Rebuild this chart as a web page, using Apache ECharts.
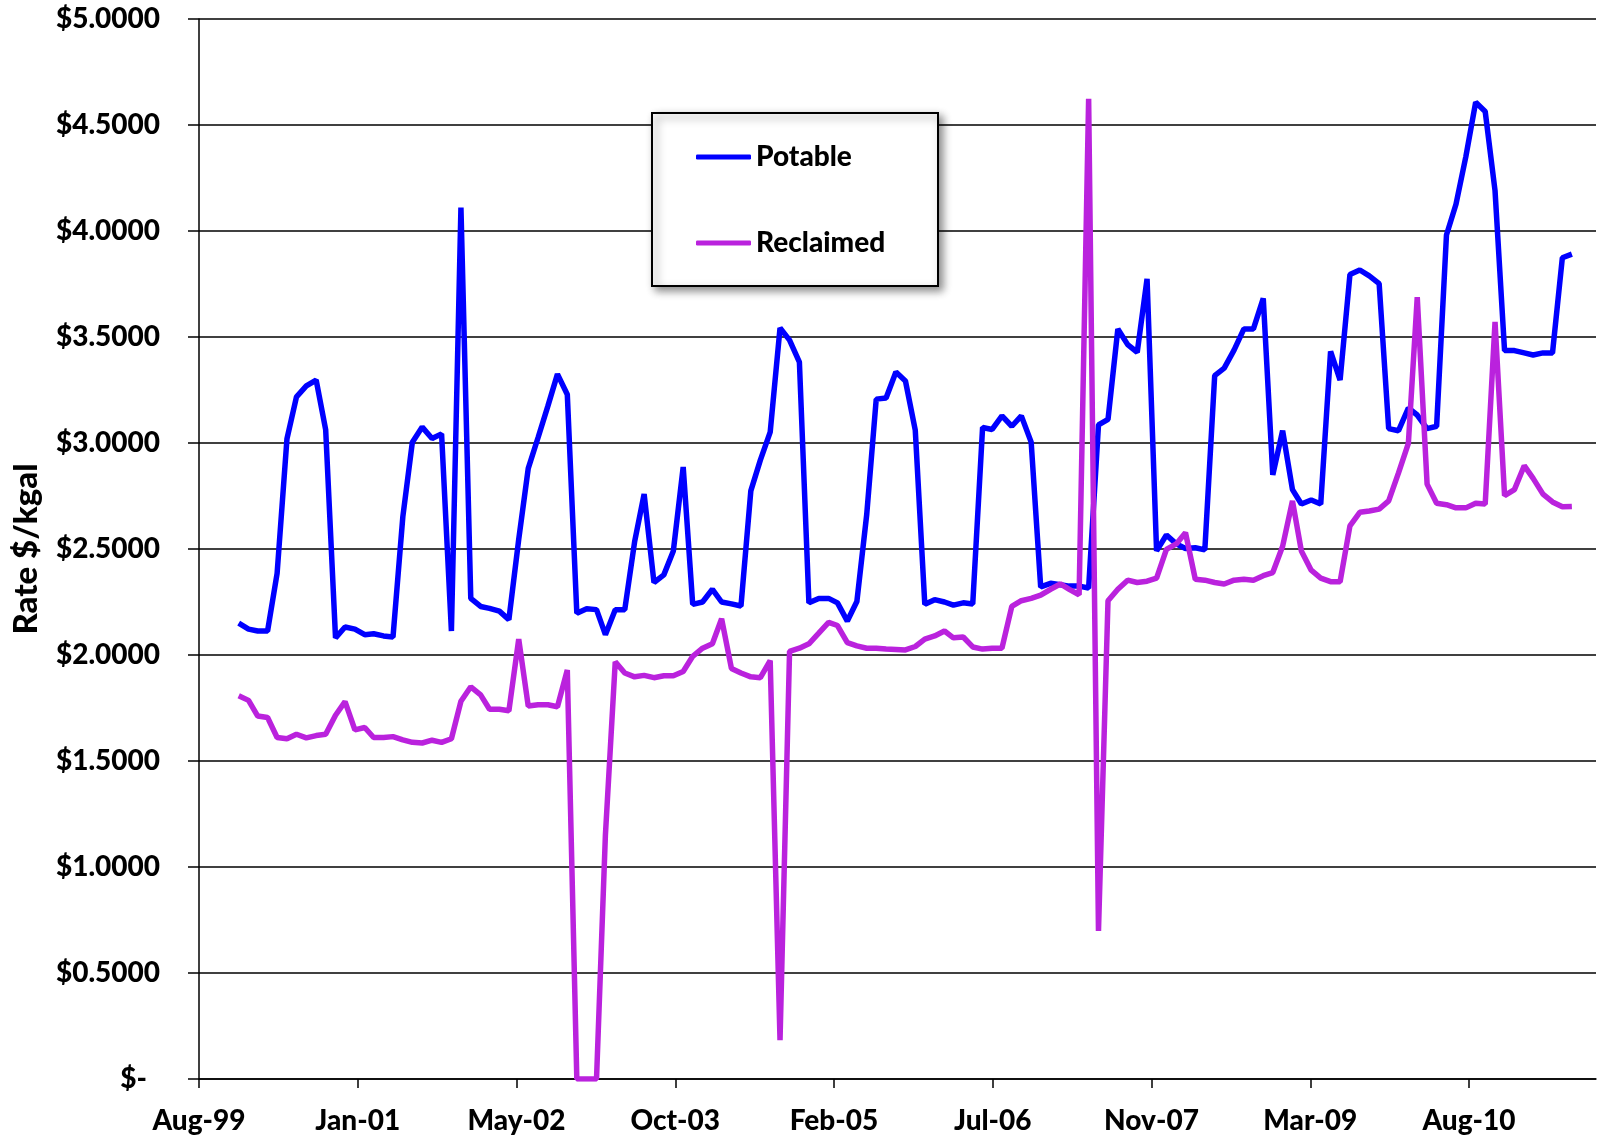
<!DOCTYPE html>
<html>
<head>
<meta charset="utf-8">
<script src="https://cdn.jsdelivr.net/npm/echarts@6/dist/echarts.min.js"></script>
<style>
html,body{margin:0;padding:0;background:#fff;}
#chart{width:1600px;height:1139px;}
</style>
</head>
<body>
<div id="chart"></div>
<script>
// Monthly observations, Jan 2000 .. Jul 2011
const startYear = 2000;
const monthCount = 139;
const months = [];
for (let i = 0; i < monthCount; i++) {
  const y = startYear + Math.floor(i / 12), m = i % 12;
  months.push(y + '-' + String(m + 1).padStart(2, '0'));
}

const potable = [
  2.150, 2.122, 2.113, 2.113, 2.385, 3.019, 3.218, 3.269, 3.297, 3.062,
  2.081, 2.132, 2.122, 2.096, 2.100, 2.090, 2.085, 2.652, 3.004, 3.075,
  3.021, 3.043, 2.113, 4.110, 2.267, 2.229, 2.220, 2.207, 2.167, 2.545,
  2.880, 3.026, 3.175, 3.325, 3.229, 2.197, 2.218, 2.214, 2.096, 2.214,
  2.214, 2.534, 2.759, 2.342, 2.378, 2.491, 2.887, 2.239, 2.250, 2.310,
  2.250, 2.241, 2.231, 2.774, 2.919, 3.051, 3.543, 3.485, 3.382, 2.246,
  2.267, 2.267, 2.246, 2.160, 2.252, 2.662, 3.207, 3.212, 3.335, 3.293,
  3.060, 2.239, 2.261, 2.250, 2.235, 2.246, 2.241, 3.073, 3.064, 3.128,
  3.079, 3.128, 3.004, 2.321, 2.338, 2.331, 2.325, 2.325, 2.316, 3.085,
  3.111, 3.538, 3.464, 3.428, 3.774, 2.491, 2.566, 2.524, 2.502, 2.506,
  2.496, 3.318, 3.353, 3.438, 3.538, 3.538, 3.682, 2.850, 3.058, 2.780,
  2.712, 2.731, 2.712, 3.432, 3.297, 3.795, 3.816, 3.788, 3.752, 3.068,
  3.058, 3.165, 3.132, 3.068, 3.079, 3.981, 4.126, 4.350, 4.607, 4.564,
  4.190, 3.436, 3.436, 3.425, 3.415, 3.425, 3.425, 3.874, 3.891
];

const reclaimed = [
  1.808, 1.786, 1.712, 1.705, 1.611, 1.605, 1.626, 1.609, 1.620, 1.626,
  1.716, 1.780, 1.647, 1.658, 1.611, 1.611, 1.615, 1.600, 1.588, 1.585,
  1.598, 1.588, 1.605, 1.782, 1.850, 1.812, 1.744, 1.744, 1.737, 2.075,
  1.759, 1.765, 1.765, 1.756, 1.929, 0.000, 0.000, 0.000, 1.150, 1.968,
  1.915, 1.897, 1.904, 1.893, 1.902, 1.902, 1.922, 1.994, 2.032, 2.053,
  2.171, 1.936, 1.915, 1.897, 1.893, 1.974, 0.183, 2.017, 2.032, 2.053,
  2.103, 2.154, 2.139, 2.058, 2.043, 2.032, 2.032, 2.028, 2.026, 2.024,
  2.040, 2.075, 2.090, 2.113, 2.081, 2.085, 2.038, 2.028, 2.032, 2.032,
  2.229, 2.256, 2.267, 2.282, 2.310, 2.335, 2.310, 2.284, 4.624, 0.698,
  2.256, 2.310, 2.353, 2.342, 2.348, 2.363, 2.498, 2.524, 2.577, 2.357,
  2.353, 2.342, 2.335, 2.353, 2.357, 2.353, 2.374, 2.389, 2.513, 2.727,
  2.491, 2.400, 2.363, 2.346, 2.346, 2.609, 2.673, 2.679, 2.688, 2.727,
  2.859, 2.998, 3.688, 2.806, 2.716, 2.709, 2.694, 2.694, 2.716, 2.712,
  3.571, 2.752, 2.780, 2.893, 2.833, 2.759, 2.722, 2.699, 2.701
];

// Axis: days counted from the axis origin date, ticks every 500 days
const axisOrigin = Date.UTC(1999, 7, 29);
const xTickDays = [0, 500, 1000, 1500, 2000, 2500, 3000, 3500, 4000];
const MON = ['Jan','Feb','Mar','Apr','May','Jun','Jul','Aug','Sep','Oct','Nov','Dec'];

function monthToDays(s) {
  const [y, m] = s.split('-').map(Number);
  return (Date.UTC(y, m - 1, 1) - axisOrigin) / 86400000;
}
function dayLabel(v) {
  const d = new Date(axisOrigin + v * 86400000);
  return MON[d.getUTCMonth()] + '-' + String(d.getUTCFullYear()).slice(2);
}

const potableData = months.map((m, i) => [monthToDays(m), potable[i]]);
const reclaimedData = months.map((m, i) => [monthToDays(m), reclaimed[i]]);

const FONT = 'Lato';
const FW = 900;
const chart = echarts.init(document.getElementById('chart'), null, {renderer: 'canvas'});
chart.setOption({
  animation: false,
  backgroundColor: '#ffffff',
  grid: {left: 199, right: 4, top: 19, bottom: 60, containLabel: false},
  xAxis: {
    type: 'value', min: 0, max: 4400, interval: 500,
    axisLine: {show: true, lineStyle: {color: '#000', width: 1.5}},
    axisTick: {show: true, inside: false, length: 9, lineStyle: {color: '#000', width: 1.5}, customValues: xTickDays},
    axisLabel: {
      customValues: xTickDays,
      formatter: dayLabel, margin: 28,
      fontFamily: FONT, fontWeight: FW, fontSize: 28, color: '#000'
    },
    splitLine: {show: false}
  },
  yAxis: {
    type: 'value', min: 0, max: 5, interval: 0.5,
    name: 'Rate $/kgal', nameLocation: 'middle', nameGap: 156,
    nameTextStyle: {fontFamily: FONT, fontWeight: FW, fontSize: 33, color: '#000'},
    axisLine: {show: true, lineStyle: {color: '#000', width: 1.5}},
    axisTick: {show: true, inside: false, length: 11, lineStyle: {color: '#000', width: 1.5}},
    axisLabel: {
      margin: 39,
      fontFamily: FONT, fontWeight: FW, fontSize: 28, color: '#000',
      formatter: v => v === 0 ? '{z|$-}' : '$' + v.toFixed(4),
      rich: {z: {fontFamily: FONT, fontWeight: FW, fontSize: 28, color: '#000', padding: [0, 13, 0, 0]}}
    },
    splitLine: {show: true, lineStyle: {color: '#000', width: 1.5}}
  },
  legend: {
    data: ['Potable', 'Reclaimed'],
    orient: 'vertical', left: 691, top: 137, z: 10,
    icon: 'roundRect', itemWidth: 55, itemHeight: 5, itemGap: 56,
    textStyle: {fontFamily: FONT, fontWeight: FW, fontSize: 28, color: '#000', lineHeight: 30}
  },
  graphic: [{
    type: 'rect', z: 9, silent: true,
    shape: {x: 652, y: 113, width: 286, height: 173},
    style: {fill: '#fff', stroke: '#000', lineWidth: 2,
      shadowBlur: 8, shadowOffsetX: 4, shadowOffsetY: 4, shadowColor: 'rgba(0,0,0,0.45)'}
  }],
  series: [
    {name: 'Potable', type: 'line', data: potableData, symbol: 'none',
     lineStyle: {color: '#0000FF', width: 5.5}, itemStyle: {color: '#0000FF'}, z: 3},
    {name: 'Reclaimed', type: 'line', data: reclaimedData, symbol: 'none',
     lineStyle: {color: '#BA22DD', width: 5.5}, itemStyle: {color: '#BA22DD'}, z: 3}
  ]
});
</script>
</body>
</html>
